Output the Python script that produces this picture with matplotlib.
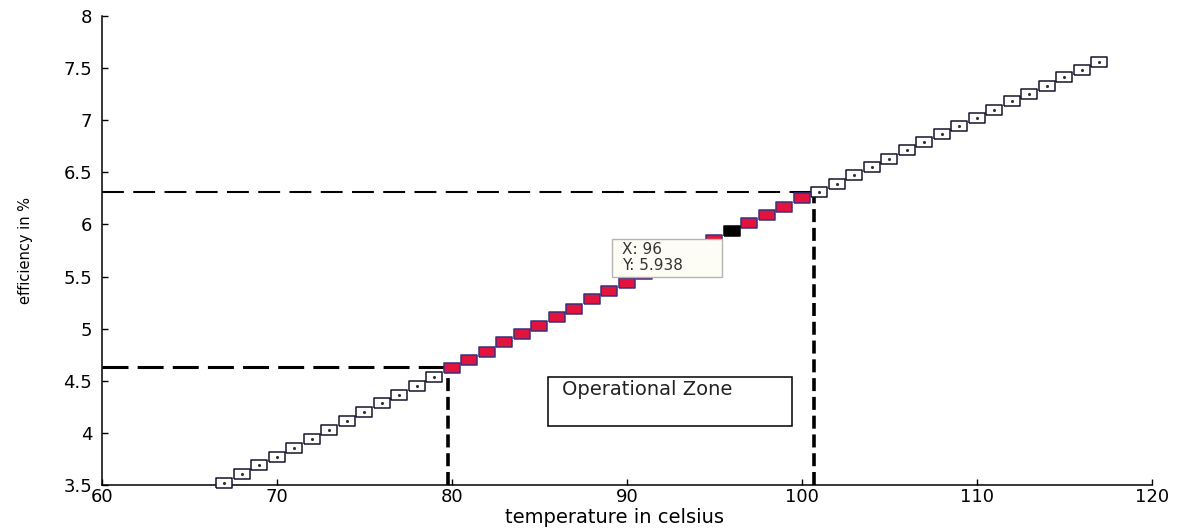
import matplotlib.pyplot as plt
from matplotlib.patches import Rectangle

# efficiency, one point per degree
temps = list(range(67, 118))
efficiency = [3.515, 3.605, 3.688, 3.771, 3.858, 3.940, 4.027, 4.113, 4.197, 4.283,
              4.366, 4.452, 4.533, 4.619,
              4.70, 4.78, 4.87, 4.95, 5.03, 5.11, 5.19, 5.28, 5.36, 5.44,
              5.52, 5.61, 5.69, 5.77, 5.85, 5.938,
              6.01, 6.09, 6.17, 6.25,
              6.31, 6.39, 6.47, 6.55, 6.63, 6.71, 6.79, 6.87, 6.94, 7.02,
              7.10, 7.18, 7.25, 7.33, 7.41, 7.48, 7.56]

zone_start, zone_end = 80, 100      # red points
tip_temp = 96                       # data tip point

# dashed guide lines
zone_low_temp, zone_low_eff = 79.8, 4.63
zone_high_temp, zone_high_eff = 100.7, 6.31

xticks = [60, 70, 80, 90, 100, 110, 120]
yticks = [3.5, 4, 4.5, 5, 5.5, 6, 6.5, 7, 7.5, 8]
ytick_labels = ['3.5', '4', '4.5', '5', '5.5', '6', '6.5', '7', '7.5', '8']

plt.rcParams['font.family'] = ['DejaVu Sans']

fig = plt.figure(figsize=(11.84, 5.28), dpi=100)
ax = fig.add_axes([0.0861, 0.0814, 0.8868, 0.8883])

# the original figure was stretched sideways, so the squares are wide boxes
rect = [(-1, -0.58), (1, -0.58), (1, 0.58), (-1, 0.58), (-1, -0.58)]

normal = [i for i, t in enumerate(temps) if not (zone_start <= t <= zone_end)]
zone = [i for i, t in enumerate(temps) if zone_start <= t <= zone_end and t != tip_temp]
tip = temps.index(tip_temp)

ax.plot([temps[i] for i in normal], [efficiency[i] for i in normal], ls='none',
        marker=rect, ms=12.2, mfc='white', mec='#15152a', mew=1.1, zorder=3, clip_on=False)
ax.plot([temps[i] for i in normal], [efficiency[i] for i in normal], ls='none',
        marker='.', ms=2.5, color='#333333', zorder=4, clip_on=False)
ax.plot([temps[i] for i in zone], [efficiency[i] for i in zone], ls='none',
        marker=rect, ms=12.2, mfc='#e0143c', mec='#3b2f80', mew=1.1, zorder=3)
ax.plot([temps[tip]], [efficiency[tip]], ls='none',
        marker=rect, ms=12.2, mfc='black', mec='black', mew=1.1, zorder=3)

# dashed guides
ax.plot([60, zone_high_temp], [zone_high_eff, zone_high_eff], color='black', lw=1.5,
        ls=(0, (10.5, 4.5)), zorder=2)
ax.plot([60, zone_low_temp], [zone_low_eff, zone_low_eff], color='black', lw=2.2,
        ls=(0, (8.5, 3)), zorder=2)
ax.plot([zone_low_temp, zone_low_temp], [3.5, zone_low_eff], color='black', lw=2.6,
        ls=(0, (3.6, 1.6)), zorder=2)
ax.plot([zone_high_temp, zone_high_temp], [3.5, zone_high_eff], color='black', lw=2.6,
        ls=(0, (3.6, 1.6)), zorder=2)

# data tip box
ax.add_patch(Rectangle((0.4857, 0.4435), 0.1048, 0.081, transform=ax.transAxes,
                       facecolor='#fdfdf6', edgecolor='#b5b5b5', lw=1, zorder=6))
ax.text(0.495, 0.518, f'X: {temps[tip]}\nY: {efficiency[tip]}', transform=ax.transAxes,
        ha='left', va='top', fontsize=11, color='#333333', linespacing=1.1, zorder=7)

# operational zone label
ax.add_patch(Rectangle((0.4248, 0.1258), 0.2322, 0.1045, transform=ax.transAxes,
                       facecolor='white', edgecolor='black', lw=1.1, zorder=5))
ax.text(0.438, 0.203, 'Operational Zone', transform=ax.transAxes, ha='left', va='center',
        fontsize=14, color='#222222', zorder=6)

ax.set_xlim(60, 120)
ax.set_ylim(3.5, 8)
ax.set_xticks(xticks)
ax.set_yticks(yticks)
ax.set_yticklabels(ytick_labels)
ax.spines['top'].set_visible(False)
ax.spines['right'].set_visible(False)
for s in ['left', 'bottom']:
    ax.spines[s].set_linewidth(1.1)
ax.tick_params(direction='in', length=4.5, width=1, labelsize=13)
ax.tick_params(axis='y', pad=7)
ax.tick_params(axis='x', pad=2)

ax.set_xlabel('temperature in celsius', fontsize=14)
ax.set_ylabel('efficiency in %', fontsize=10.5)
ax.xaxis.set_label_coords(0.4886, -0.05)
ax.yaxis.set_label_coords(-0.0657, 0.5)

fig.savefig('out.png', dpi=100)
